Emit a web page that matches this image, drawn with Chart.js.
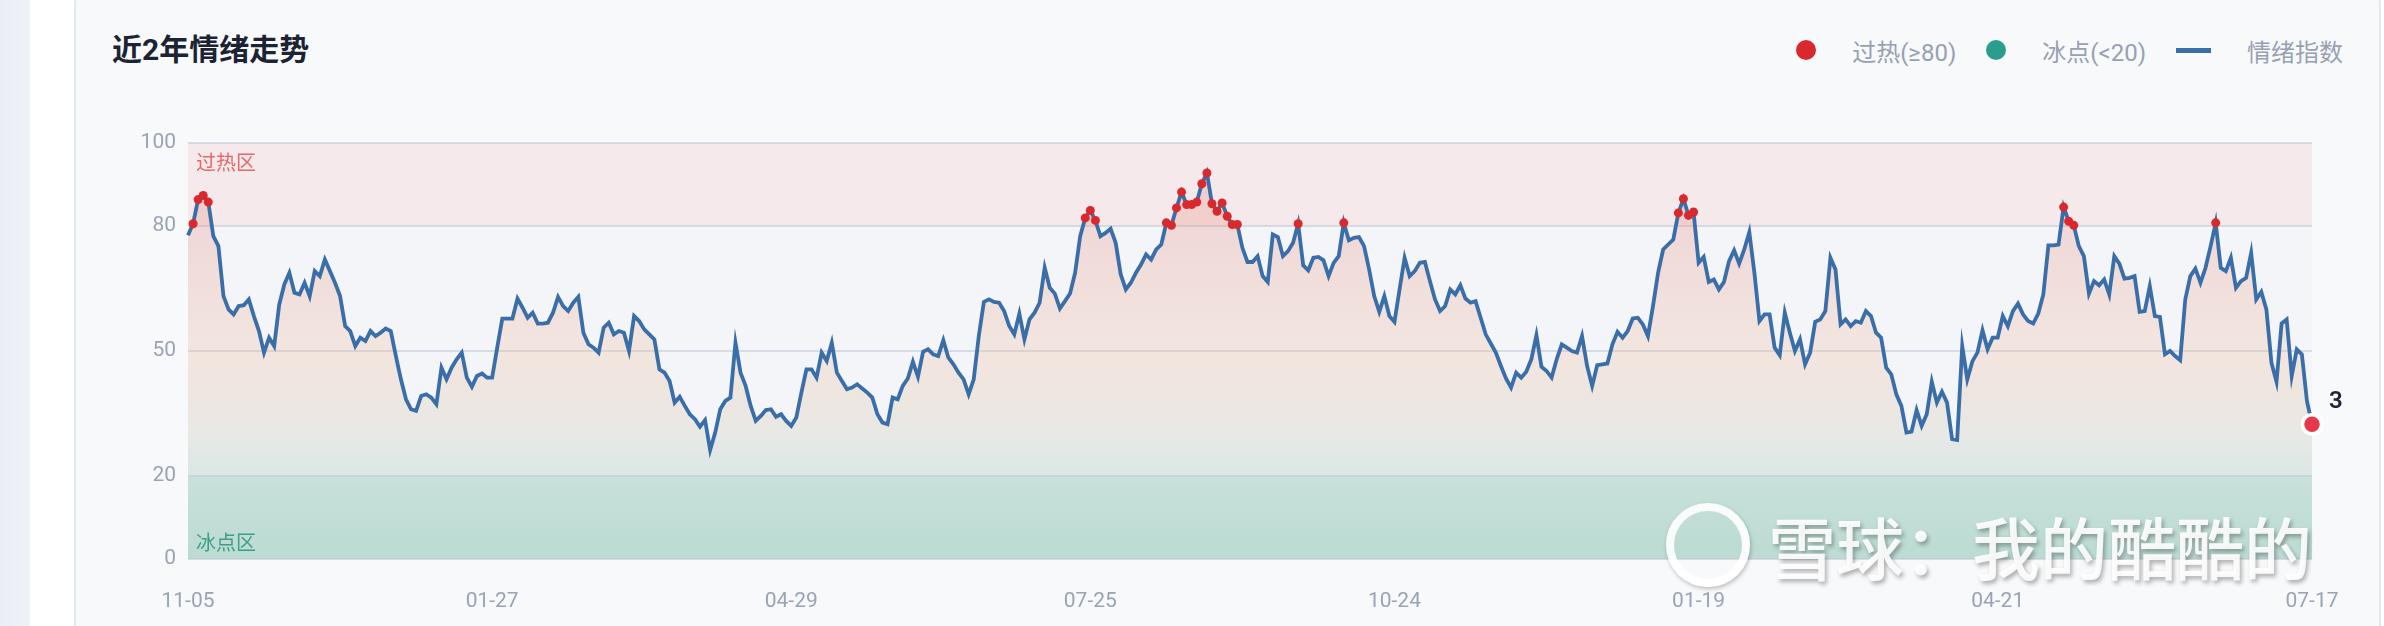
<!DOCTYPE html>
<html>
<head>
<meta charset="utf-8">
<script src="https://cdn.jsdelivr.net/npm/chart.js@4.4.1/dist/chart.umd.min.js"></script>
<style>
    html, body { margin: 0; padding: 0; }
    body {
        width: 2384px; height: 626px; overflow: hidden; position: relative;
        background: #ffffff;
        font-family: Roboto, "Noto Sans CJK SC", sans-serif;
    }
    .side { position: absolute; left: 0; top: 0; width: 30px; height: 626px; background: linear-gradient(90deg, #e9edf5, #eff2f8); }
    .card {
        position: absolute; left: 74px; top: -14px; width: 2303px; height: 680px;
        border: 2px solid #e3e8f0; border-radius: 18px; background: #f8f9fb;
    }
    .title { position: absolute; left: 112px; top: 30px; font-size: 30px; font-weight: 700; color: #1c2333; line-height: 40px; }
    .legend { position: absolute; right: 41px; top: 35px; height: 30px; display: flex; align-items: center; font-family: Roboto, "Noto Sans CJK SC", sans-serif; font-size: 24px; color: #97a1b2; }
    .legend .item { display: flex; align-items: center; margin-left: 30px; }
    .legend .dot { width: 20px; height: 20px; border-radius: 50%; }
    .legend .bar { width: 35px; height: 5px; background: #3a6ea8; }
    .legend .txt { margin-left: 36px; }
    .wrap { position: absolute; left: 80px; top: 110px; width: 2262px; height: 516px; }
    .wm { position: absolute; left: 1666px; top: 503px; height: 84px; display: flex; align-items: center; pointer-events: none; }
    .wm .logo { width: 68px; height: 68px; border: 8px solid rgba(255,255,255,0.9); border-radius: 50%; box-shadow: 1px 2px 4px rgba(0,0,0,0.25); }
    .wm .wmtext { margin-left: 18px; font-family: "Noto Sans CJK SC", sans-serif; font-size: 68px; font-weight: 500; color: rgba(255,255,255,0.9); text-shadow: 2px 3px 4px rgba(0,0,0,0.3); }
</style>
</head>
<body>
<div class="side"></div>
<div class="card"></div>
<div class="title">近2年情绪走势</div>
<div class="legend">
    <div class="item"><span class="dot" style="background:#d9292c"></span><span class="txt">过热(≥80)</span></div>
    <div class="item"><span class="dot" style="background:#2a9d8f"></span><span class="txt">冰点(&lt;20)</span></div>
    <div class="item"><span class="bar"></span><span class="txt">情绪指数</span></div>
</div>
<div class="wrap"><canvas id="chart"></canvas></div>
<div class="wm"><span class="logo"></span><span class="wmtext">雪球：我的酷酷的</span></div>

<script>
// Daily sentiment index
const sentiment = [
    77.8, 80.6, 86.4, 87.4, 85.8, 77.6, 75.2, 63.2, 60, 58.8, 60.8, 61, 62.4, 58.4, 54.8, 49.6, 53.2, 51.2, 61.2, 66,
    68.8, 64, 63.6, 66.4, 63.2, 69.2, 68, 72, 69.2, 66.4, 63.2, 56, 54.8, 51.2, 53.2, 52.4, 54.8, 53.6, 54.4, 55.4,
    54.8, 48.8, 43.2, 38.4, 36, 35.6, 39.2, 39.6, 38.8, 37.2, 46, 43.2, 46, 48, 49.6, 43.6, 41.4, 44, 44.6, 43.6,
    43.6, 50.8, 57.8, 57.8, 57.8, 62.6, 60.4, 58, 59.2, 56.6, 56.6, 56.8, 59.2, 63, 60.8, 59.6, 61.6, 63, 54.4, 51.6,
    50.8, 49.6, 55.6, 56.8, 54, 54.8, 54.4, 50, 58.4, 57.2, 55.2, 54, 52.8, 45.6, 44.8, 42.8, 37.6, 39, 36.8, 34.8,
    33.6, 31.8, 33.4, 26.2, 30.4, 36, 38, 38.8, 52, 44.8, 41.6, 36.8, 33.2, 34.4, 35.8, 36, 34.2, 34.8, 33.2, 32,
    34, 40, 45.6, 45.6, 43.6, 49.6, 47.6, 52, 44.8, 42.8, 40.8, 41.2, 42, 41, 40, 38.8, 34.8, 32.8, 32.4, 38.8,
    38.4, 41.6, 43.4, 47.4, 43.8, 49.8, 50.4, 49.2, 48.8, 52.6, 48.4, 46.8, 44.8, 43.2, 39.6, 43.2, 53.6, 61.8, 62.4, 61.8,
    61.6, 59.6, 56, 54, 59, 52.8, 57.6, 59.2, 61.6, 70, 65.2, 63.8, 60.2, 62, 63.8, 68.8, 77.6, 82, 83.8, 81.4,
    77.6, 78.4, 79.4, 76, 68.4, 64.8, 66.4, 68.8, 70.8, 73.2, 72, 74.4, 75.6, 80.8, 80.2, 84.4, 88.2, 85.2, 85.2, 85.8,
    90.2, 92.8, 85.4, 83.6, 85.6, 82.4, 80.4, 80.4, 74.8, 71.4, 71.4, 72.8, 68, 66.6, 78, 77.4, 72.8, 74, 76, 80.6,
    70.6, 69.4, 72.4, 72.6, 71.8, 68, 71.2, 72.8, 80.8, 76.6, 77.2, 77.4, 75.2, 69.6, 63.2, 59.4, 63.2, 58.4, 57, 64.8,
    72.4, 68, 69.2, 71.2, 71.4, 66.8, 62.4, 59.6, 60.8, 64.8, 63.6, 65.8, 62.6, 61.6, 62, 58, 54, 51.8, 49.6, 46.4,
    43.4, 41.2, 44.8, 43.6, 45, 48, 53.8, 46.2, 45.2, 43.6, 48, 51.6, 50.8, 50, 49.6, 53.6, 46.4, 41.6, 46.6, 46.8,
    47, 51.6, 54.6, 53.2, 54.8, 57.8, 58, 56.4, 53.6, 60.8, 68.8, 74.4, 75.6, 76.8, 83.2, 86.6, 82.6, 83.4, 71.2, 72.6,
    66.6, 67.2, 64.8, 66.6, 71.6, 74.2, 71, 74.4, 78.6, 68.8, 57.2, 58.8, 58.8, 50.8, 49, 59.2, 54.4, 50, 52.8, 46.8,
    49.6, 57, 57.6, 59.6, 72.4, 69.6, 56.4, 57.6, 56, 57.2, 56.8, 59.6, 58.4, 54.4, 53.2, 46, 44.4, 39.6, 36.8, 30.4,
    30.6, 35.8, 32, 34.8, 42.6, 37.6, 40.2, 37.6, 28.8, 28.6, 51.2, 43.2, 47.5, 49.6, 55, 50.4, 53.2, 53.2, 58.4, 56,
    59.6, 61.4, 58.8, 57.2, 56.6, 59, 63.6, 75.4, 75.4, 75.6, 84.6, 81.2, 80.2, 75.2, 72.8, 63.8, 66.8, 65.8, 67.2, 63.6,
    72.8, 71, 67.4, 67.6, 68, 59.4, 59.6, 65.6, 58.4, 58.2, 49.2, 50, 48.8, 47.8, 62.4, 68, 69.8, 66.4, 70, 75.2,
    80.8, 70, 69.2, 72.4, 65.2, 66.8, 67.6, 73.6, 62.4, 64.2, 60, 47.2, 42.6, 56.6, 57.6, 44, 50.4, 49.2, 38, 32.4,
];

// x-axis date labels and the series index each one sits on
const dateLabels = ["11-05", "01-27", "04-29", "07-25", "10-24", "01-19", "04-21", "07-17"];
const dateIndex = [0, 60, 119, 178, 238, 298, 357, 419];

const yTicks = [0, 20, 50, 80, 100];
const HOT = 80;
const COLD = 20;

const FONT = 'Roboto, "Noto Sans CJK SC", sans-serif';
const lastIdx = sentiment.length - 1;

// background bands + zone names
const zonePlugin = {
    id: "zones",
    beforeDraw(chart) {
        const { ctx, chartArea: a, scales: { y } } = chart;
        ctx.save();
        ctx.fillStyle = "#f3f5f9";
        ctx.fillRect(a.left, a.top, a.width, a.height);
        const yHot = y.getPixelForValue(HOT);
        ctx.fillStyle = "#f5e9eb";
        ctx.fillRect(a.left, a.top, a.width, yHot - a.top);
        const yCold = y.getPixelForValue(COLD);
        const g = ctx.createLinearGradient(0, yCold, 0, a.bottom);
        g.addColorStop(0, "#c8e1da");
        g.addColorStop(1, "#bbdbd3");
        ctx.fillStyle = g;
        ctx.fillRect(a.left, yCold, a.width, a.bottom - yCold);
        ctx.restore();
    },
    afterDatasetsDraw(chart) {
        const { ctx, chartArea: a } = chart;
        ctx.save();
        ctx.font = `20px "Noto Sans CJK SC", sans-serif`;
        ctx.textBaseline = "middle";
        ctx.fillStyle = "#e46a6a";
        ctx.fillText("过热区", a.left + 8, a.top + 19);
        ctx.fillStyle = "#3f9e8a";
        ctx.fillText("冰点区", a.left + 8, a.bottom - 17);

        // latest value next to the last point (cut off by the canvas edge, as in the source)
        const pt = chart.getDatasetMeta(2).data[lastIdx];
        ctx.font = `600 24px ${FONT}`;
        ctx.fillStyle = "#1d2433";
        ctx.fillText(String(Math.round(sentiment[lastIdx])), pt.x + 17, pt.y - 22);
        ctx.restore();
    },
};

const fillGradient = (context) => {
    const { chart } = context;
    const { ctx, chartArea, scales } = chart;
    if (!chartArea) return "rgba(0,0,0,0)";
    const top = scales.y.getPixelForValue(100);
    const bottom = scales.y.getPixelForValue(COLD);
    const g = ctx.createLinearGradient(0, top, 0, bottom);
    g.addColorStop(0, "rgba(228, 110, 100, 0.22)");
    g.addColorStop(0.25, "rgba(230, 125, 110, 0.24)");
    g.addColorStop(0.625, "rgba(240, 180, 140, 0.24)");
    g.addColorStop(0.875, "rgba(215, 215, 200, 0.40)");
    g.addColorStop(1, "rgba(180, 210, 195, 0.40)");
    return g;
};

new Chart(document.getElementById("chart"), {
    type: "line",
    data: {
        labels: sentiment.map((_, i) => i),
        datasets: [
            {
                label: "过热(≥80)",
                data: sentiment.map((v) => (v >= HOT ? v : null)),
                showLine: false,
                pointRadius: 4.5,
                pointBackgroundColor: "#d9292c",
                pointBorderWidth: 0,
                clip: false,
            },
            {
                label: "冰点(<20)",
                data: sentiment.map((v) => (v < COLD ? v : null)),
                showLine: false,
                pointRadius: 4.5,
                pointBackgroundColor: "#2a9d8f",
                pointBorderWidth: 0,
                clip: false,
            },
            {
                label: "情绪指数",
                data: sentiment,
                borderColor: "#3a6ea8",
                borderWidth: 3.8,
                tension: 0,
                fill: { value: COLD },
                backgroundColor: fillGradient,
                pointRadius: (c) => (c.dataIndex === lastIdx ? 9.5 : 0),
                pointBackgroundColor: "#e5384b",
                pointBorderColor: "#ffffff",
                pointBorderWidth: 3.5,
                clip: false,
            },
        ],
    },
    options: {
        responsive: true,
        maintainAspectRatio: false,
        animation: false,
        layout: { padding: { top: 33, right: 30, left: 0, bottom: 0 } },
        plugins: {
            legend: { display: false },
            tooltip: { enabled: false },
        },
        scales: {
            x: {
                type: "linear",
                min: 0,
                max: lastIdx,
                grid: { display: false },
                border: { display: false },
                afterBuildTicks: (s) => { s.ticks = dateIndex.map((v) => ({ value: v })); },
                afterFit: (s) => {
                    s.height = 67;
                    // let the end labels hang over the plot edges
                    s.paddingLeft = 0;
                    s.paddingRight = 0;
                },
                ticks: {
                    autoSkip: false,
                    maxRotation: 0,
                    padding: 22,
                    color: "#9aa3b3",
                    font: { size: 21, family: FONT },
                    callback: (v) => dateLabels[dateIndex.indexOf(v)] ?? "",
                },
            },
            y: {
                min: 0,
                max: 100,
                afterBuildTicks: (s) => { s.ticks = yTicks.map((v) => ({ value: v })); },
                afterFit: (s) => {
                    s.width = 108;
                    s.paddingTop = 0;
                    s.paddingBottom = 0;
                },
                grid: { color: "rgba(190, 198, 214, 0.55)", lineWidth: 2, drawTicks: false },
                border: { display: false },
                ticks: {
                    padding: 12,
                    color: "#9aa3b3",
                    font: { size: 21, family: FONT },
                },
            },
        },
    },
    plugins: [zonePlugin],
});
</script>
</body>
</html>
